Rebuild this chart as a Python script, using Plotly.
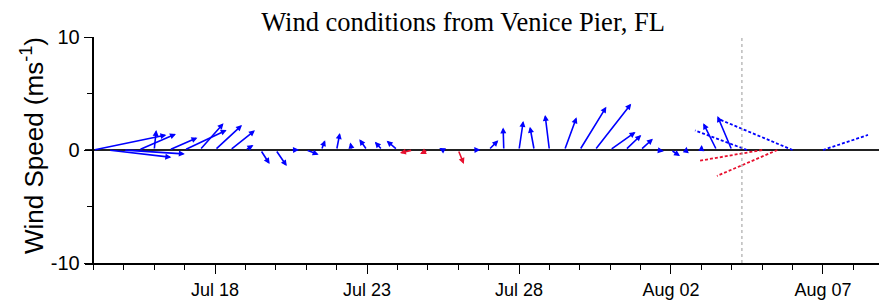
import plotly.graph_objects as go
import pandas as pd

# ---------------- data ----------------
title_text = "Wind conditions from Venice Pier, FL"
y_label = "Wind Speed (ms<sup>-1</sup>)"

# observed vectors, every 12 hours from Jul 14 00:00
obs_start = "2021-07-14 00:00"
obs_step_hours = 12
obs_u = [6.46, 5.55, 5.4, 3.27, 0.18, 2.48, 3.72, 2.1, 2.39, 2.19,
         0.71, 0.8, 0.97, 0.71, 1.1, 0.33, 0.29, -0.14, -0.68, -0.65,
         -0.95, -1.12, -0.68, -0.33, 0.5, 0.62, 0.86, -0.06, 0.38, -0.38,
         -0.38, 1.06, 2.35, 3.2, 2.24, 1.4, 1.09, 0.71, 0.8, 0.04,
         0.03, -1.18, -1.27]
obs_v = [1.33, -0.65, -0.35, 1.42, 1.77, 1.09, 1.77, 2.36, 2.21, 1.74,
         0.44, -1.24, -1.42, 0.03, -0.41, 0.87, 1.5, 0.67, 0.95, 0.73,
         0.82, -0.27, -0.35, 0.18, -1.24, 0.03, 0.86, 2.0, 2.57, 2.06,
         3.1, 2.89, 3.83, 4.1, 1.59, 1.33, 1.0, -0.11, -0.53, 0.28,
         0.44, 2.36, 3.0]
obs_red = [21, 22, 24]  # indices drawn in red

# forecast vectors (dotted)
fc_times = ["2021-08-04 12:00", "2021-08-05 00:00", "2021-08-05 12:00",
            "2021-08-06 00:00", "2021-08-07 00:00"]
fc_u = [-4.6, -5.66, -5.35, -6.55, 3.98]
fc_v = [1.73, -0.97, -2.3, 2.74, 1.33]
fc_color = ["blue", "red", "red", "blue", "blue"]

now_time = "2021-08-04 08:00"

x_range = ["2021-07-13 17:22", "2021-08-08 20:13"]
y_range = [-10, 10]
y_tickvals = [-10, 0, 10]
y_ticktext = ["-10", "0", "10"]
y_minor = [-5, 5]
x_tick0 = "2021-07-18"
x_tick_days = 5

# ---------------- layout geometry ----------------
W, H = 879, 301
ML, MR, MT, MB = 85, 0, 37, 38
plot_w = W - ML - MR
plot_h = H - MT - MB
span_days = (pd.Timestamp(x_range[1]) - pd.Timestamp(x_range[0])) / pd.Timedelta(days=1)
px_per_day = plot_w / span_days
px_per_unit = plot_h / (y_range[1] - y_range[0])
days_per_unit = px_per_unit / px_per_day  # keeps vectors isotropic on screen

BLUE = "#0000ff"
RED = "#e8102e"

obs_times = pd.date_range(obs_start, periods=len(obs_u), freq=f"{obs_step_hours}h")

fig = go.Figure()

# invisible trace to establish axes
fig.add_trace(go.Scatter(x=[obs_times[0]], y=[0], mode="markers",
                         marker=dict(opacity=0), showlegend=False, hoverinfo="skip"))

def fmt(ts):
    return ts.strftime("%Y-%m-%d %H:%M:%S")

annotations = []
for i, (t, u, v) in enumerate(zip(obs_times, obs_u, obs_v)):
    end = t + pd.Timedelta(days=u * days_per_unit)
    col = RED if i in obs_red else BLUE
    annotations.append(dict(
        x=fmt(end), y=v, ax=fmt(t), ay=0,
        xref="x", yref="y", axref="x", ayref="y",
        showarrow=True, arrowhead=2, arrowsize=0.75, arrowwidth=1.6,
        arrowcolor=col, text=""))

for t, u, v, c in zip(fc_times, fc_u, fc_v, fc_color):
    t0 = pd.Timestamp(t)
    end = t0 + pd.Timedelta(days=u * days_per_unit)
    fig.add_trace(go.Scatter(
        x=[t0, end], y=[0, v], mode="lines",
        line=dict(color=BLUE if c == "blue" else RED, width=1.8, dash="3px,2px"),
        showlegend=False, hoverinfo="skip"))

# y-axis label
annotations.append(dict(
    text=y_label, xref="paper", yref="paper",
    x=(32 - ML) / plot_w, y=(H - MB - 146) / plot_h,
    xanchor="center", yanchor="middle", textangle=-90, showarrow=False,
    font=dict(family="Liberation Sans, Arial, sans-serif", size=26, color="black")))

fig.add_shape(type="line", xref="x", yref="paper",
              x0=now_time, x1=now_time, y0=0, y1=1,
              line=dict(color="#999999", width=1, dash="dot"))

axis_font = dict(family="Liberation Sans, Arial, sans-serif", size=18, color="black")

fig.update_layout(
    width=W, height=H,
    margin=dict(l=ML, r=MR, t=MT, b=MB, autoexpand=False),
    paper_bgcolor="white", plot_bgcolor="white",
    title=dict(text=title_text, x=463 / W, xanchor="center", xref="container",
               y=1 - 22 / H, yanchor="middle", yref="container",
               font=dict(family="Liberation Serif, Times New Roman, serif", size=26.5, color="black")),
    annotations=annotations,
    xaxis=dict(
        type="date", range=x_range, showgrid=False, zeroline=False,
        tick0=x_tick0, dtick=x_tick_days * 86400000, tickformat="%b %d",
        ticks="outside", ticklen=9, tickwidth=1, tickcolor="black",
        showline=True, linecolor="black", linewidth=2,
        tickfont=axis_font,
        minor=dict(dtick=86400000, tick0=obs_start, ticks="outside",
                   ticklen=5, tickwidth=1, tickcolor="black", showgrid=False),
    ),
    yaxis=dict(
        range=y_range, anchor="free", position=(93.4 - ML) / plot_w,
        tickmode="array", tickvals=y_tickvals, ticktext=y_ticktext,
        ticks="outside", ticklen=9, tickwidth=1, tickcolor="black",
        showline=True, linecolor="black", linewidth=1.5,
        showgrid=False, zeroline=True, zerolinecolor="#222222", zerolinewidth=2,
        tickfont=dict(family="Liberation Sans, Arial, sans-serif", size=20, color="black"),
        minor=dict(tickvals=y_minor, ticks="outside", ticklen=6, tickwidth=1,
                   tickcolor="black", showgrid=False),
    ),
)

fig.write_html("out.html", config={"displayModeBar": False},
               post_script="document.body.style.margin='0px';")
